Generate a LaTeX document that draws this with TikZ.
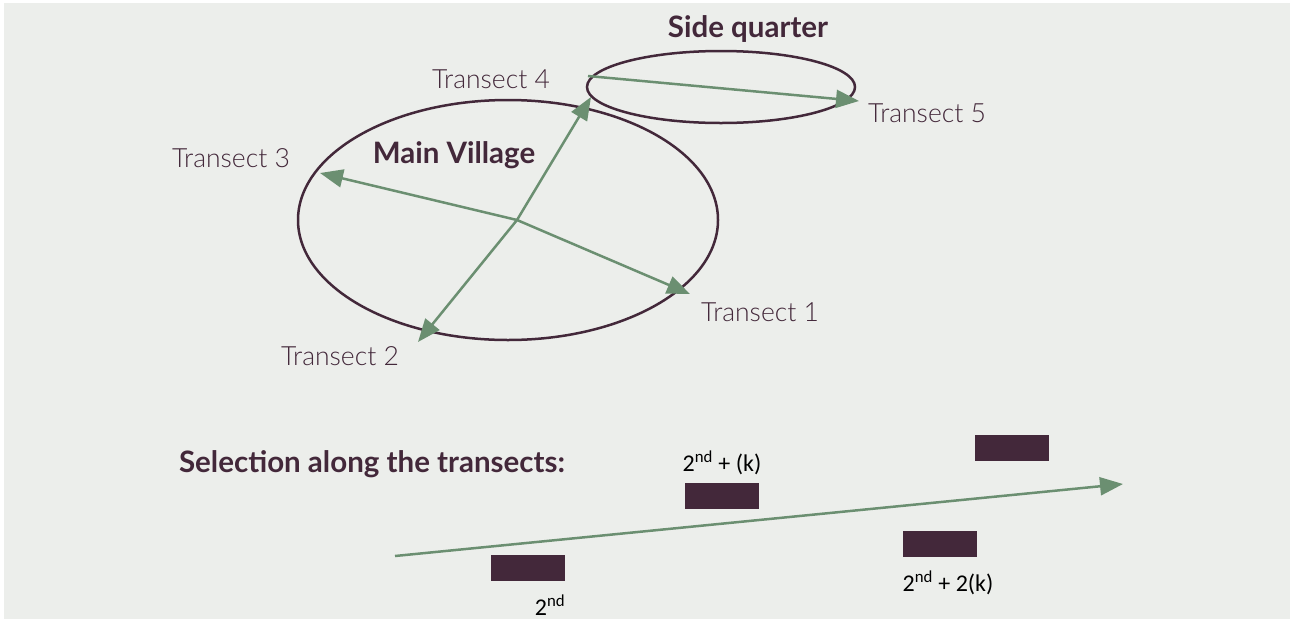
\documentclass[tikz,border=0pt]{standalone}
\usepackage{fontspec}
\setmainfont{Lato}
\newfontfamily\lightfont{Lato Light}
\newfontfamily\boldfont{Lato Bold}
\newfontfamily\numfont{Carlito}
\usetikzlibrary{arrows.meta}
\definecolor{bg}{HTML}{ECEEEB}
\definecolor{plum}{HTML}{43283A}
\definecolor{sage}{HTML}{6B8F71}
\begin{document}
\begin{tikzpicture}[x=1pt,y=-1pt,
  transect/.style={draw=sage,line width=2.5pt,-{Triangle[length=23pt,width=18pt]}},
  lbl/.style={text=plum,font=\lightfont\fontsize{26.5}{30}\selectfont,inner sep=0pt},
  title/.style={text=plum,font=\boldfont\fontsize{29.5}{33}\selectfont,inner sep=0pt},
  unit/.style={fill=plum,draw=none,minimum width=74pt,minimum height=26pt,inner sep=0pt},
  rank/.style={text=black,font=\numfont\fontsize{24}{28}\selectfont,inner sep=0pt}]
\useasboundingbox (0,0) rectangle (1290,619);
\fill[white] (0,0) rectangle (1290,619);
\fill[bg] (4,3) rectangle (1290,619);

% village outlines
\draw[draw=plum,line width=2.5pt] (508,220) ellipse [x radius=210, y radius=120];
\draw[draw=plum,line width=2.5pt] (721,87) ellipse [x radius=134, y radius=36];

% transects
\coordinate (c) at (517,220);
\coordinate (t1) at (690,294);
\coordinate (t2) at (418,342);
\coordinate (t3) at (320,173);
\coordinate (t4) at (591,97);
\coordinate (s5) at (588,76);
\coordinate (t5) at (859,101);
\draw[transect] (c) -- (t1);
\draw[transect] (c) -- (t2);
\draw[transect] (c) -- (t3);
\draw[transect] (c) -- (t4);
\draw[transect] (s5) -- (t5);

\node[lbl] (l1) at (760,312) {Transect 1};
\node[lbl] (l2) at (340,356) {Transect 2};
\node[lbl] (l3) at (231,158) {Transect 3};
\node[lbl] (l4) at (491,79) {Transect 4};
\node[lbl] (l5) at (927,113) {Transect 5};
\node[title] (mvl) at (454,155) {Main Village};
\node[title] (sql) at (748,29) {Side quarter};

% systematic selection along a transect
\node[title] (sel) at (372,464) {Selection along the transects:};
\coordinate (a0) at (395,556);
\coordinate (a1) at (1123,484);
\draw[transect] (a0) -- (a1);
\node[unit] (u1) at (528,567.5) {};
\node[unit] (u2) at (721.5,496) {};
\node[unit] (u3) at (940,544) {};
\node[unit] (u4) at (1012,448) {};
\node[rank] (r1) at (550,605) {2\textsuperscript{nd}};
\node[rank] (r2) at (722,463) {2\textsuperscript{nd} + (k)};
\node[rank] (r3) at (948,583) {2\textsuperscript{nd} + 2(k)};
\end{tikzpicture}
\end{document}
